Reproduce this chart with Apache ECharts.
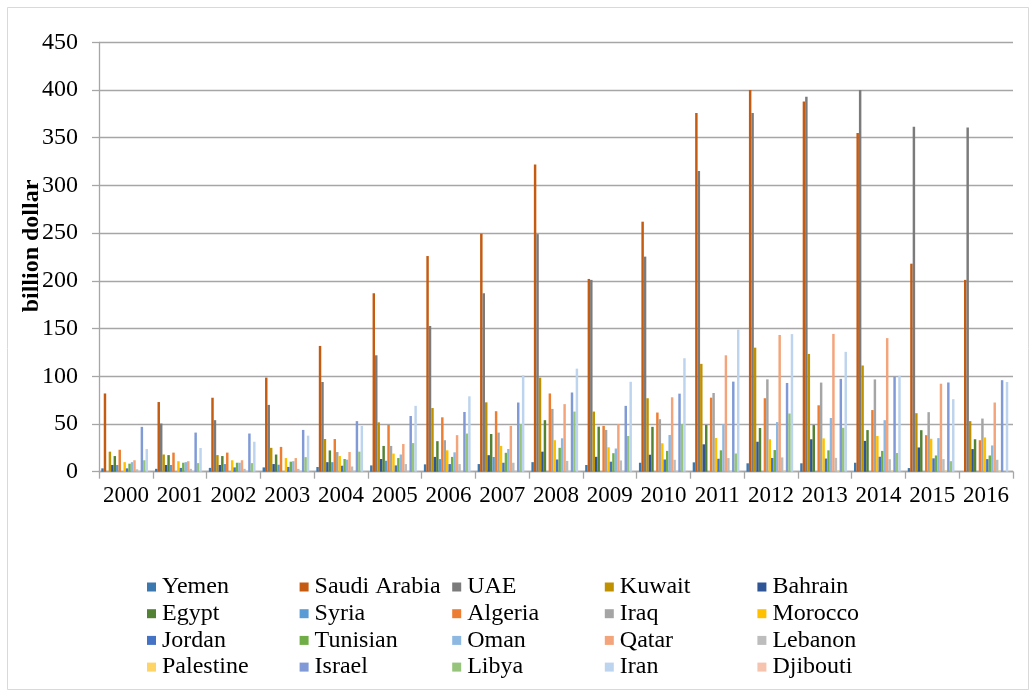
<!DOCTYPE html>
<html>
<head>
<meta charset="utf-8">
<title>Exports by country, 2000-2016</title>
<script src="https://cdn.jsdelivr.net/npm/echarts@6/dist/echarts.min.js"></script>
<style>
  html, body { margin: 0; padding: 0; background: #ffffff; }
  #chart { width: 1036px; height: 697px; }
</style>
</head>
<body>
<div id="chart"></div>
<script>
// Years on the category axis
const years = ['2000','2001','2002','2003','2004','2005','2006','2007','2008',
               '2009','2010','2011','2012','2013','2014','2015','2016'];

// Values in billion dollars, one array per country (null = no data)
const yemen       = [3.5, 3, 4, 4.5, 4.9, 6.6, 7.7, 8, 10, 7, 9.4, 9.8, 8.8, 8.8, 9.4, 3.8, null];
const saudiArabia = [82, 73, 77.5, 98.6, 131.8, 187, 226, 249.5, 322, 202, 262, 376, 400, 388, 355, 218, 201];
const uae         = [null, 50.5, 54, 70, 94, 122, 152.7, 187, 249, 201, 225.4, 315, 376, 393, 400, 361.6, 360.6];
const kuwait      = [21, 18, 17.4, 25, 34.3, 51.7, 66.7, 72.7, 98.5, 63, 77, 113, 130, 123.4, 111.3, 61.3, 53];
const bahrain     = [7, 7, 7, 8, 10, 13.3, 15.5, 17.3, 21, 15.6, 17.8, 28.7, 31.4, 34, 32.3, 25.4, 23.7];
const egypt       = [16.4, 17.4, 16.4, 18, 22.3, 27, 32, 39.5, 54, 47.2, 47, 49, 45.8, 48.9, 43.6, 43.5, 34];
const syria       = [7, 7, 8, 7.3, 10, 11.5, 13.2, 15.4, null, null, null, null, null, null, null, null, null];
const algeria     = [23, 20, 20, 26, 34.2, 49, 57, 63.4, 82, 48, 62, 77.6, 77, 69.6, 64.6, 38.3, 33];
const iraq        = [null, null, null, null, 20.6, 27, 33, 41, 65.8, 43.8, 55, 82.5, 96.8, 93.4, 96.7, 62.4, 55.7];
const morocco     = [10, 11, 12, 14.3, 16.4, 19, 22.4, 27, 33, 25.6, 29.8, 35.3, 34, 34.9, 37.4, 34.5, 35.9];
const jordan      = [3.5, 4, 4.5, 5, 6.3, 6.6, 8, 9.4, 12.8, 10.5, 12.8, 13.6, 14.4, 13.8, 15.7, 14, 13.2];
const tunisian    = [8.4, 9.4, 9.4, 10.5, 13.3, 14.3, 15.5, 19.8, 25, 19.4, 21.8, 22.4, 22.7, 22.4, 21.8, 17, 17];
const oman        = [10, 10, 9.4, 11, 12.6, 18, 20.3, 23.8, 35, 24.3, 38.5, 50, 52, 56.3, 54, 35.2, 27.5];
const qatar       = [12, 11, 12, 14.3, 20.6, 29, 38.3, 48, 70.8, 49.8, 78, 122, 143.3, 144.4, 140, 92.2, 72.5];
const lebanon     = [2.5, 3, 3, 3, 5.5, 8, 8, 9.4, 11.3, 11.8, 12.5, 14.3, 15, 14.5, 13.1, 13.2, 12.5];
const palestine   = [0.5, 0.5, 0.5, 0.5, 0.5, 0.5, 0.5, 0.5, 0.6, 0.6, 0.6, 0.8, 1, 1.2, 1.2, 1.2, 1.2];
const israel      = [47, 41, 40, 43.8, 53, 58.4, 62.6, 72.5, 83, 69, 81.8, 94.4, 93, 97.3, 99.5, 93.5, 95.9];
const libya       = [12, 9, 9, 15.3, 21, 30, 40, 50, 63, 37.4, 49.8, 19.1, 61, 46, 19.6, 11, null];
const iran        = [23.7, 24.8, 31.4, 37.8, 48, 69, 79, 101, 108, 94.2, 118.9, 149, 144.2, 125.6, 100.5, 76, 94];
const djibouti    = [0.2, 0.2, 0.2, 0.2, 0.2, 0.2, 0.2, 0.2, 0.2, 0.2, 0.2, 0.2, 0.2, 0.2, 0.2, 0.2, 0.2];

// Series names in plotting order, with their fill colours
const countries = [
  ['Yemen', yemen, '#3B78B0'],
  ['Saudi Arabia', saudiArabia, '#C55A11'],
  ['UAE', uae, '#7B7B7B'],
  ['Kuwait', kuwait, '#BF9000'],
  ['Bahrain', bahrain, '#2F5597'],
  ['Egypt', egypt, '#548235'],
  ['Syria', syria, '#5B9BD5'],
  ['Algeria', algeria, '#ED7D31'],
  ['Iraq', iraq, '#A5A5A5'],
  ['Morocco', morocco, '#FFC000'],
  ['Jordan', jordan, '#4472C4'],
  ['Tunisian', tunisian, '#70AD47'],
  ['Oman', oman, '#8DB8E2'],
  ['Qatar', qatar, '#F4A47A'],
  ['Lebanon', lebanon, '#BDBDBD'],
  ['Palestine', palestine, '#FFD466'],
  ['Israel', israel, '#7F9AD6'],
  ['Libya', libya, '#95C47A'],
  ['Iran', iran, '#BDD4EE'],
  ['Djibouti', djibouti, '#F6C4AE']
];

const yTicks = { min: 0, max: 450, step: 50 };

const FONT = '"Liberation Serif", "Times New Roman", serif';
const GRID_COLOR = '#A6A6A6';

// Legend: five columns of four entries each
const legends = [];
for (let c = 0; c < 5; c++) {
  const names = [];
  for (let r = 0; r < 4; r++) names.push(countries[r * 5 + c][0]);
  legends.push({
    data: names,
    orient: 'vertical',
    left: 147 + c * 152.6,
    top: 575,
    padding: 0,
    itemGap: 2.7,
    itemWidth: 9,
    itemHeight: 9,
    icon: 'rect',
    selectedMode: false,
    textStyle: { fontFamily: FONT, fontSize: 24, color: '#000', lineHeight: 24, padding: [0, 0, 0, 1] }
  });
}

const chart = echarts.init(document.getElementById('chart'), null, { renderer: 'canvas' });

chart.setOption({
  backgroundColor: '#ffffff',
  animation: false,
  grid: { left: 99, right: 23, top: 42.3, bottom: 225.3, containLabel: false },
  legend: legends,
  graphic: [
    {
      type: 'rect',
      shape: { x: 7.5, y: 7.5, width: 1021, height: 682 },
      style: { fill: 'none', stroke: '#D9D9D9', lineWidth: 1 },
      silent: true, z: 0
    },
    {
      type: 'text',
      x: 32, y: 246,
      rotation: Math.PI / 2,
      style: {
        text: 'billion dollar',
        font: 'bold 24px ' + FONT,
        fill: '#000',
        align: 'center',
        verticalAlign: 'middle'
      },
      silent: true
    }
  ],
  xAxis: {
    type: 'category',
    data: years,
    axisLine: { show: true, lineStyle: { color: GRID_COLOR, width: 1.3 } },
    axisTick: { show: true, length: 7, lineStyle: { color: GRID_COLOR, width: 1.3 } },
    axisLabel: { interval: 0, hideOverlap: false, fontFamily: FONT, fontSize: 23, color: '#000', margin: 13 },
    splitLine: { show: false }
  },
  yAxis: {
    type: 'value',
    min: yTicks.min,
    max: yTicks.max,
    interval: yTicks.step,
    axisLine: { show: true, lineStyle: { color: GRID_COLOR, width: 1.3 } },
    axisTick: { show: true, length: 7, lineStyle: { color: GRID_COLOR, width: 1.3 } },
    axisLabel: { fontFamily: FONT, fontSize: 24, color: '#000', margin: 21 },
    splitLine: { show: true, lineStyle: { color: GRID_COLOR, width: 1.3 } }
  },
  series: countries.map(([name, values, color]) => ({
    name: name,
    type: 'bar',
    data: values,
    barGap: '0%',
    barCategoryGap: '8.5%',
    itemStyle: { color: color },
    emphasis: { disabled: true }
  }))
});
</script>
</body>
</html>
